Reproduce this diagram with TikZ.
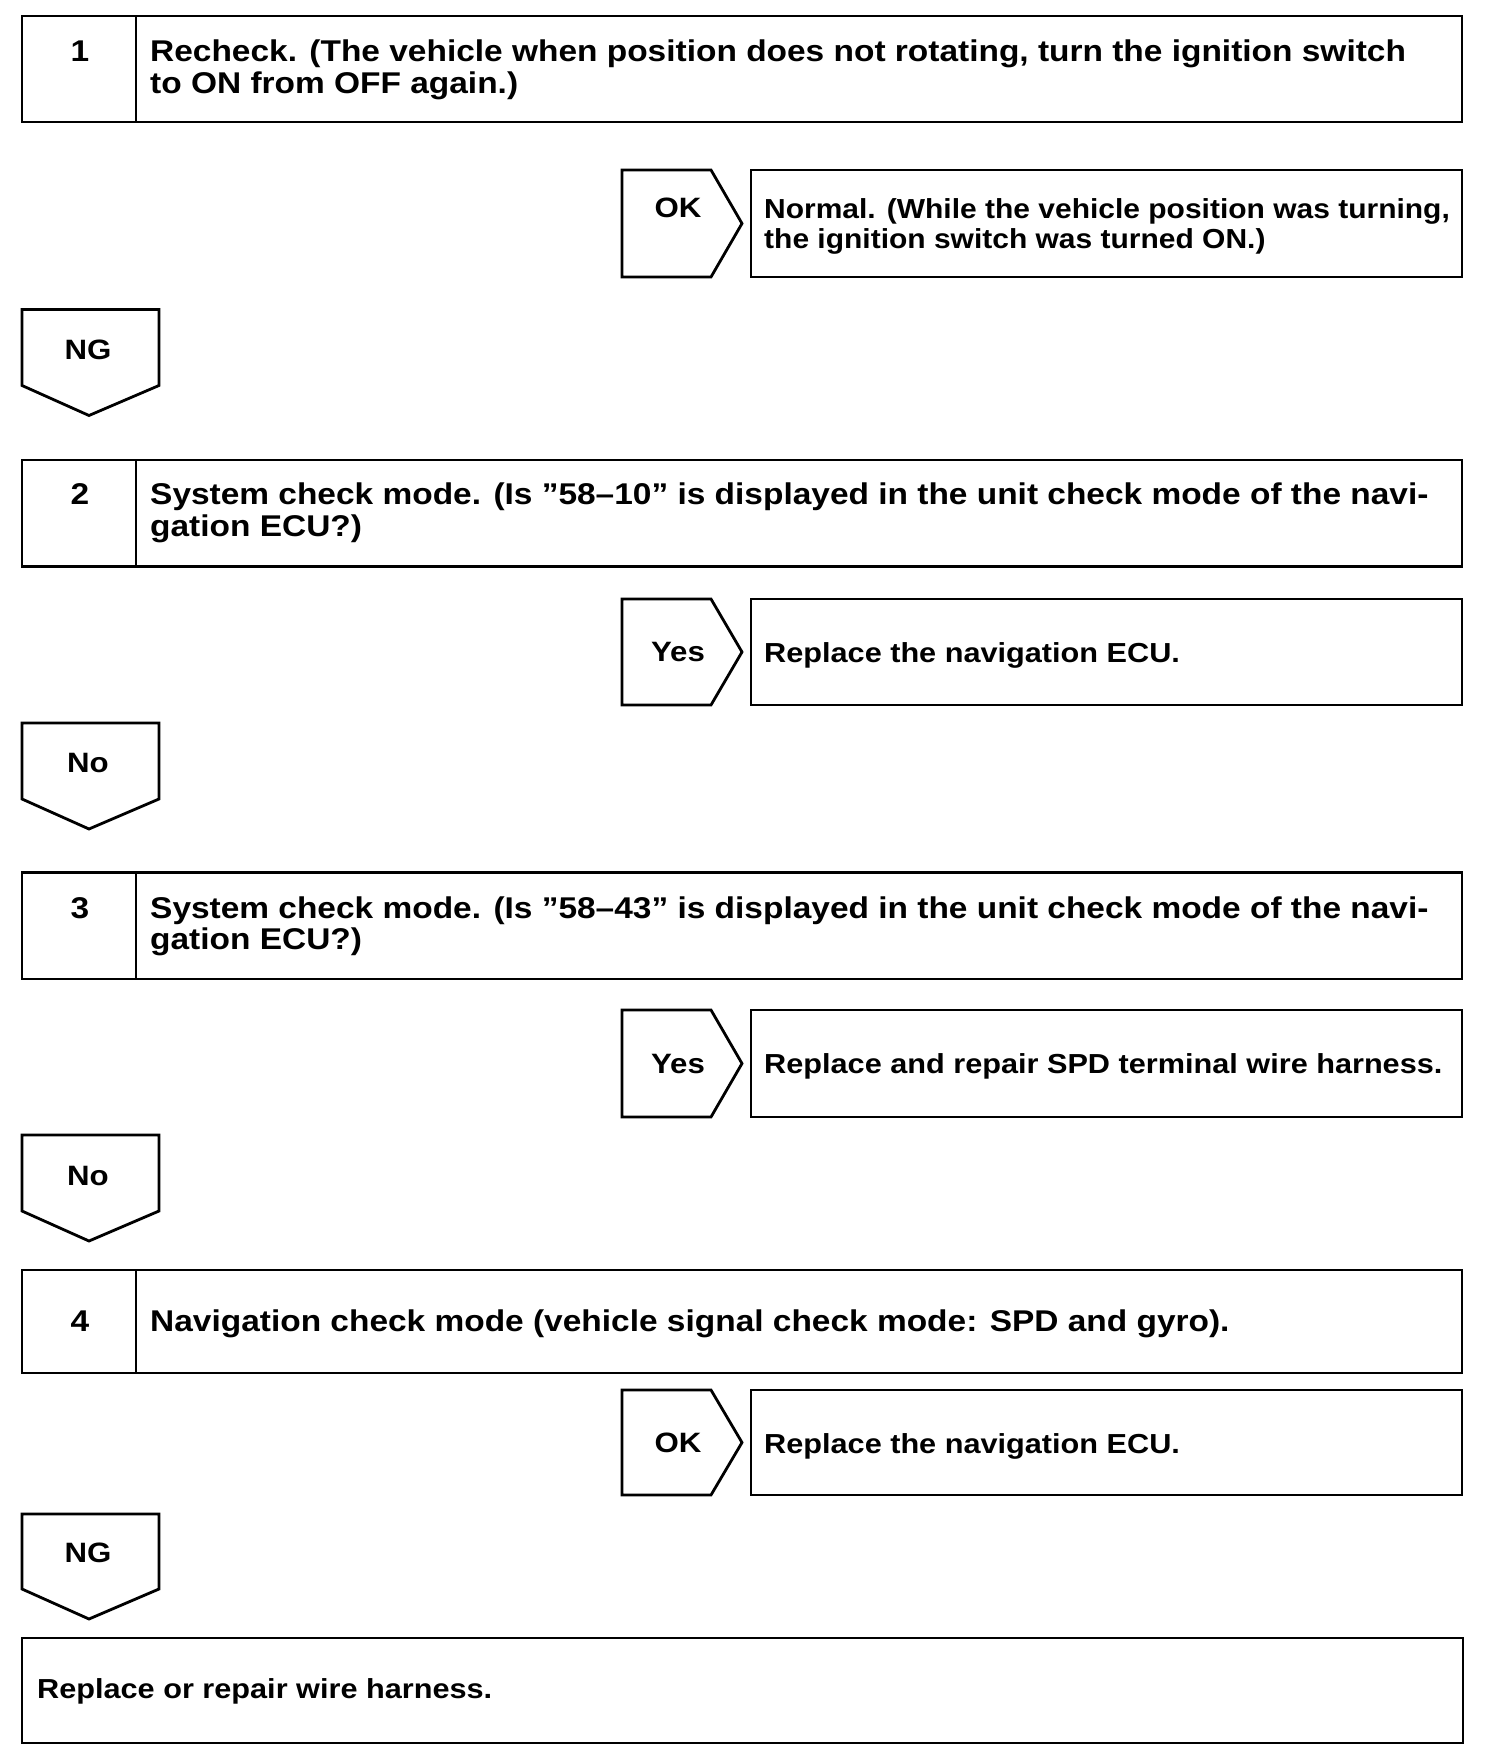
\documentclass[tikz,border=0pt]{standalone}
\usepackage{fontspec}
\setmainfont{Liberation Sans}[FakeStretch=1.115]
\newfontfamily\narrowfam{Liberation Sans}[FakeStretch=1.09]
\newcommand\stepfont{\fontsize{30}{31.5}\selectfont\bfseries}
\newcommand\resfont{\fontsize{27.5}{30}\selectfont\bfseries}
\newcommand\narrowresfont{\narrowfam\fontsize{27.5}{30}\selectfont\bfseries}
\newcommand\tagfont{\fontsize{28}{30}\selectfont\bfseries}
\newcommand\twol[2]{\vtop{\hbox{#1}\hbox{#2}}}
\begin{document}
\begin{tikzpicture}[x=1pt,y=-1pt,
  frame/.style={draw=black, line width=2.8pt, line join=miter},
  body/.style={anchor=base west, inner sep=0pt, font=\stepfont},
  res/.style={anchor=base west, inner sep=0pt, font=\resfont},
  num/.style={anchor=base, inner sep=0pt, font=\stepfont},
  tag/.style={anchor=base, inner sep=0pt, font=\tagfont}]
\useasboundingbox[fill=white] (0,0) rectangle (1504,1752);
% ---- step 1
\draw[frame] (22,16) rectangle (1462,122);
\draw[frame] (136,16) -- (136,122);
\node[num] (n1) at (80,62) {1};
\node[body] (t1) at (150,62) {\twol{Recheck. (The vehicle when position does not rotating, turn the ignition switch}{to ON from OFF again.)}};
\draw[frame] (622,170) -- (711,170) -- (742,223.5) -- (711,277) -- (622,277) -- cycle;
\node[tag] (ok1) at (678,217.5) {OK};
\draw[frame] (751,170) rectangle (1462,277);
\node[res, font=\narrowresfont] (r1) at (764,218.5) {\twol{Normal. (While the vehicle position was turning,}{the ignition switch was turned ON.)}};
\draw[frame] (22,309.5) -- (159,309.5) -- (159,385.5) -- (89,415.5) -- (22,385.5) -- cycle;
\node[tag] (ng1) at (88,359.5) {NG};
% ---- step 2
\draw[frame] (22,460) rectangle (1462,566.5);
\draw[frame] (136,460) -- (136,566.5);
\node[num] (n2) at (80,504.5) {2};
\node[body] (t2) at (150,504.5) {\twol{System check mode. (Is ”58–10” is displayed in the unit check mode of the navi-}{gation ECU?)}};
\draw[frame] (622,599) -- (711,599) -- (742,652) -- (711,705) -- (622,705) -- cycle;
\node[tag] (yes2) at (678,661) {Yes};
\draw[frame] (751,599) rectangle (1462,705);
\node[res] (r2) at (764,662) {Replace the navigation ECU.};
\draw[frame] (22,723) -- (159,723) -- (159,799) -- (89,829) -- (22,799) -- cycle;
\node[tag] (no2) at (88,772.5) {No};
% ---- step 3
\draw[frame] (22,872.5) rectangle (1462,979);
\draw[frame] (136,872.5) -- (136,979);
\node[num] (n3) at (80,918) {3};
\node[body] (t3) at (150,918) {\twol{System check mode. (Is ”58–43” is displayed in the unit check mode of the navi-}{gation ECU?)}};
\draw[frame] (622,1010) -- (711,1010) -- (742,1063.5) -- (711,1117) -- (622,1117) -- cycle;
\node[tag] (yes3) at (678,1073.5) {Yes};
\draw[frame] (751,1010) rectangle (1462,1117);
\node[res] (r3) at (764,1073.5) {Replace and repair SPD terminal wire harness.};
\draw[frame] (22,1135) -- (159,1135) -- (159,1211) -- (89,1241) -- (22,1211) -- cycle;
\node[tag] (no3) at (88,1185) {No};
% ---- step 4
\draw[frame] (22,1270) rectangle (1462,1373);
\draw[frame] (136,1270) -- (136,1373);
\node[num] (n4) at (80,1331) {4};
\node[body] (t4) at (150,1331) {Navigation check mode (vehicle signal check mode: SPD and gyro).};
\draw[frame] (622,1390) -- (711,1390) -- (742,1442.5) -- (711,1495) -- (622,1495) -- cycle;
\node[tag] (ok4) at (678,1452.5) {OK};
\draw[frame] (751,1390) rectangle (1462,1495);
\node[res] (r4) at (764,1453) {Replace the navigation ECU.};
\draw[frame] (22,1514) -- (159,1514) -- (159,1589) -- (89,1619) -- (22,1589) -- cycle;
\node[tag] (ng4) at (88,1562.5) {NG};
% ---- final
\draw[frame] (22,1638) rectangle (1463,1743);
\node[res] (fin) at (37,1698) {Replace or repair wire harness.};
\end{tikzpicture}
\end{document}
